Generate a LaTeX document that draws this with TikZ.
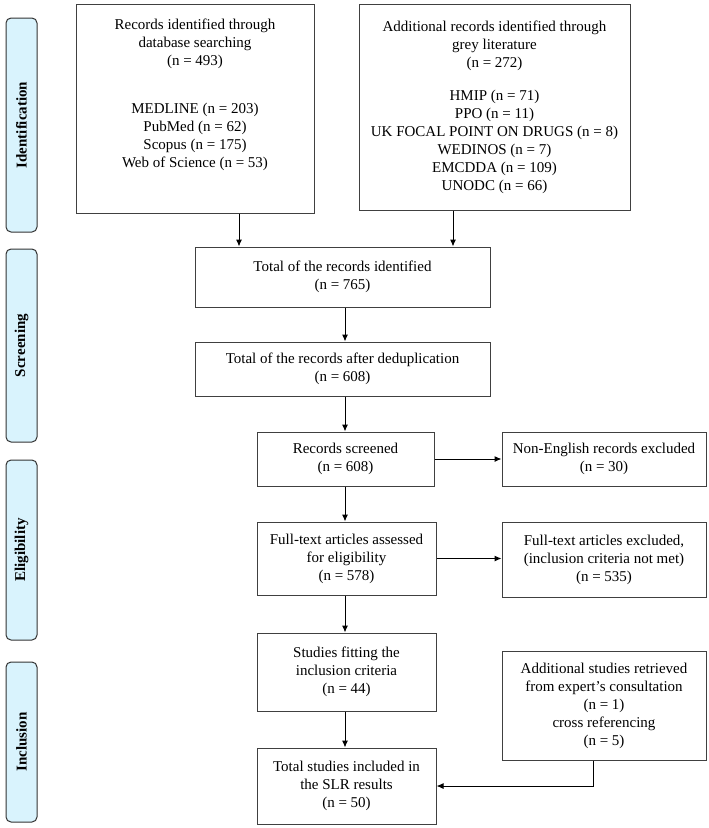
\documentclass[tikz,border=0pt]{standalone}
\usepackage{fontspec}
\setmainfont{Liberation Serif}
\usetikzlibrary{arrows.meta}
\tikzstyle{box}=[shape=rectangle,
                draw=black!75,
                align=center,
                line width=1pt,
                font=\fontsize{15}{18}\selectfont]
\tikzstyle{phase}=[shape=rectangle,
                rounded corners=5pt,
                draw=black!80,
                fill=cyan!15,
                line width=1pt,
                minimum width=31pt,
                font=\fontsize{15}{18}\selectfont\bfseries]

\begin{document}
\begin{tikzpicture}[x=1pt,y=-1pt,>={Latex[length=7pt,width=6pt]},line width=1pt]
\useasboundingbox (0,0) rectangle (709,828);

% phase bars
\node[phase,minimum height=214pt] (ident) at (21.5,125)   {};
\node[phase,minimum height=193pt] (screen) at (21.5,345.5) {};
\node[phase,minimum height=180pt] (elig) at (21.5,550)    {};
\node[phase,minimum height=160pt] (incl) at (21.5,742)    {};
\node[rotate=90,font=\fontsize{15}{18}\selectfont\bfseries] (identt) at (ident)  {Identification};
\node[rotate=90,font=\fontsize{15}{18}\selectfont\bfseries] (screent) at (screen) {Screening};
\node[rotate=90,font=\fontsize{15}{18}\selectfont\bfseries] (eligt) at (elig)    {Eligibility};
\node[rotate=90,font=\fontsize{15}{18}\selectfont\bfseries] (inclt) at (incl)    {Inclusion};

% identification
\node[box,minimum width=238pt,minimum height=209pt] (db) at (195,108.5)
  {Records identified through\\database searching\\(n = 493)\\[30pt]
   MEDLINE (n = 203)\\PubMed (n = 62)\\Scopus (n = 175)\\Web of Science (n = 53)\\[12pt]};
\node[box,minimum width=271pt,minimum height=206pt] (grey) at (494.5,107)
  {Additional records identified through\\grey literature\\(n = 272)\\[15pt]
   HMIP (n = 71)\\PPO (n = 11)\\UK FOCAL POINT ON DRUGS (n = 8)\\WEDINOS (n = 7)\\EMCDDA (n = 109)\\UNODC (n = 66)};

% screening
\node[box,minimum width=295pt,minimum height=60pt] (total) at (342.5,277)
  {Total of the records identified\\(n = 765)};
\node[box,minimum width=295pt,minimum height=54pt] (dedup) at (342.5,369)
  {Total of the records after deduplication\\(n = 608)};
\node[box,minimum width=177pt,minimum height=54pt] (scr) at (345.5,459)
  {Records screened\\(n = 608)};
\node[box,minimum width=204pt,minimum height=54pt] (noneng) at (604,459)
  {Non-English records excluded\\(n = 30)};

% eligibility
\node[box,minimum width=179pt,minimum height=73pt] (full) at (346.5,558.5)
  {Full-text articles assessed\\for eligibility\\(n = 578)};
\node[box,minimum width=204pt,minimum height=75pt] (fullex) at (604,559.5)
  {Full-text articles excluded,\\(inclusion criteria not met)\\(n = 535)};

% inclusion
\node[box,minimum width=179pt,minimum height=78pt] (fit) at (346.5,672)
  {Studies fitting the\\inclusion criteria\\(n = 44)};
\node[box,minimum width=204pt,minimum height=109pt] (extra) at (604,705.5)
  {Additional studies retrieved\\from expert’s consultation\\(n = 1)\\cross referencing\\(n = 5)};
\node[box,minimum width=179pt,minimum height=76pt] (final) at (346.5,786)
  {Total studies included in\\the SLR results\\(n = 50)};

% arrows
\draw[->] (db.south -| 239,0) -- (total.north -| 239,0);
\draw[->] (grey.south -| 453,0) -- (total.north -| 453,0);
\draw[->] (total.south -| 345,0) -- (dedup.north -| 345,0);
\draw[->] (dedup.south -| 345,0) -- (scr.north -| 345,0);
\draw[->] (scr) -- (noneng);
\draw[->] (scr.south -| 345,0) -- (full.north -| 345,0);
\draw[->] (full.east) -- (fullex.west |- full.east);
\draw[->] (full.south -| 345,0) -- (fit.north -| 345,0);
\draw[->] (fit.south -| 345,0) -- (final.north -| 345,0);
\draw[->] (extra.south -| 593,0) |- (final.east);
\end{tikzpicture}
\end{document}
